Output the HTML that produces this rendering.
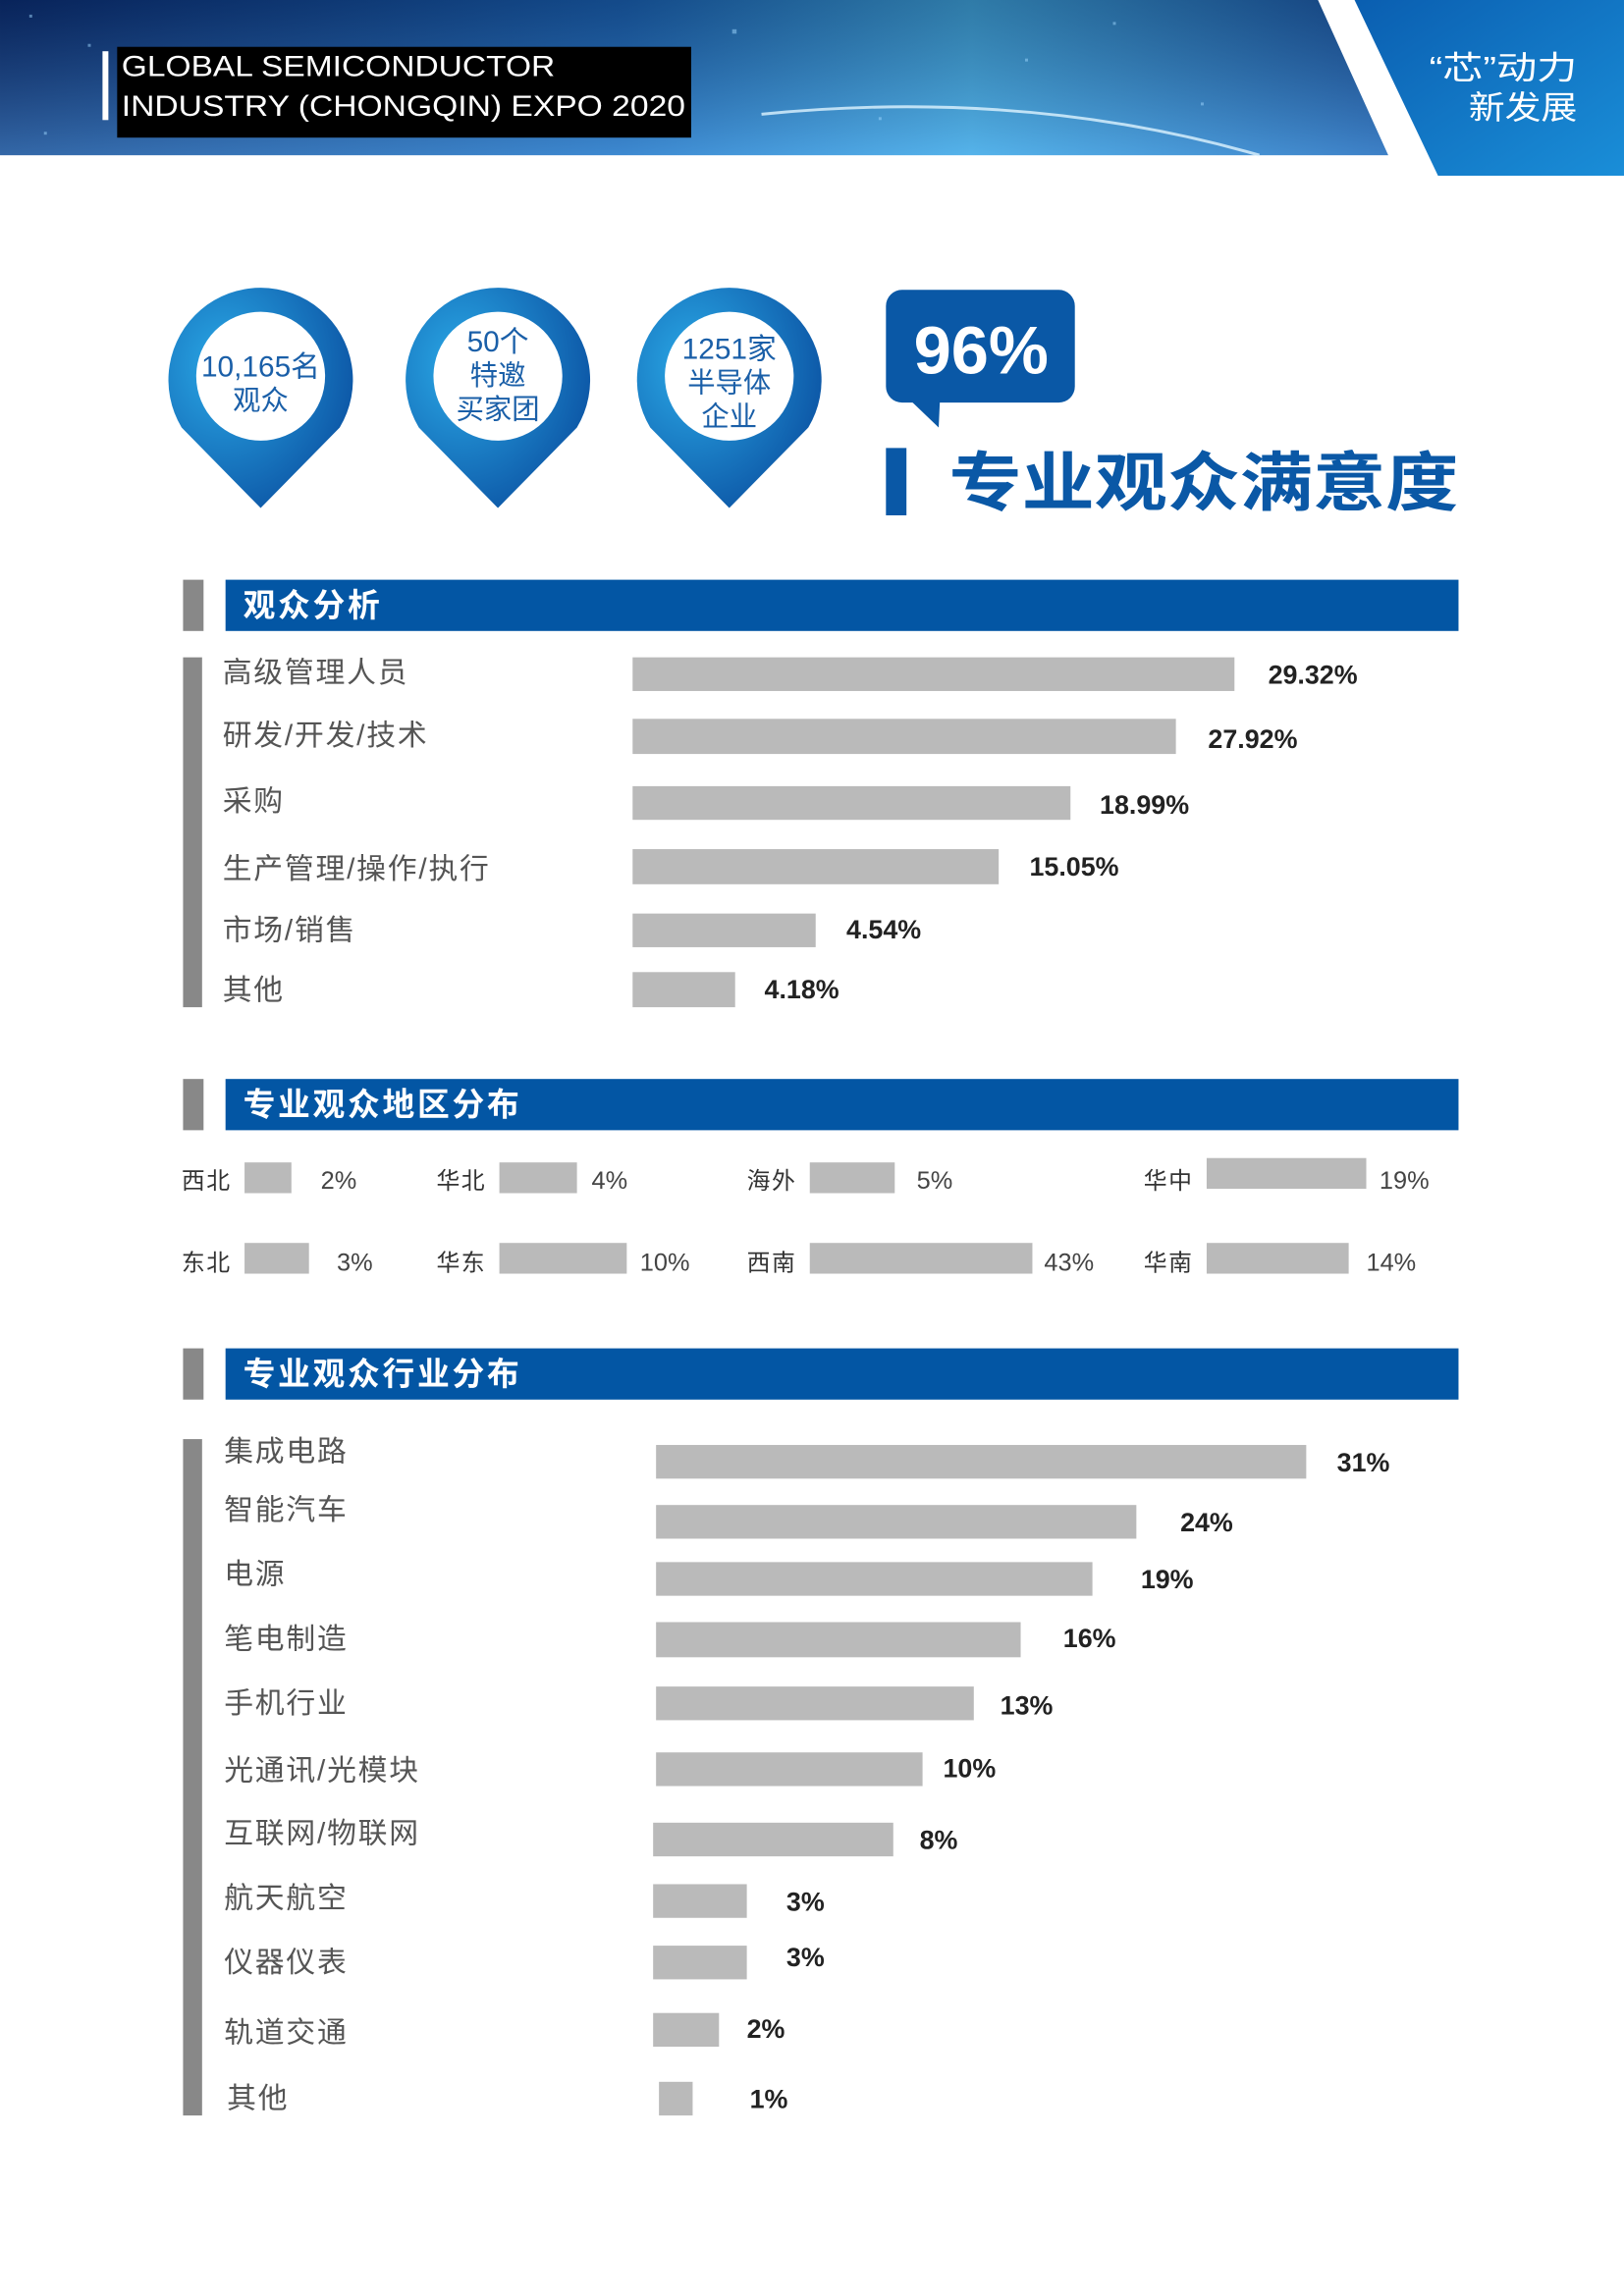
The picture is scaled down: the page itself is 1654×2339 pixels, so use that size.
<!DOCTYPE html>
<html><head><meta charset="utf-8"><style>
html,body{margin:0;padding:0;background:#fff}
svg{display:block}
text{font-family:"Liberation Sans","Noto Sans CJK SC",sans-serif}
.lab{font-size:20px;fill:#555;letter-spacing:1.2px}
.val{font-size:18px;font-weight:bold;fill:#222}
.rl{font-size:16px;fill:#333;letter-spacing:1px}
.rv{font-size:17px;fill:#444}
.hd{font-size:22px;fill:#fff;font-weight:bold;letter-spacing:1.8px}
.bar{fill:#bababa}
</style></head><body>
<svg width="1654" height="2339" viewBox="0 0 1109 1568.3" xmlns="http://www.w3.org/2000/svg">
<defs>
<linearGradient id="hg" x1="0" y1="0" x2="1" y2="0">
<stop offset="0" stop-color="#0b2f78"/><stop offset="0.45" stop-color="#1a63b8"/><stop offset="0.7" stop-color="#3fa4e0"/><stop offset="1" stop-color="#1a55a8"/></linearGradient>
<linearGradient id="hv" x1="0" y1="0" x2="0" y2="1">
<stop offset="0" stop-color="#000" stop-opacity="0.25"/><stop offset="1" stop-color="#7fd0ff" stop-opacity="0.35"/></linearGradient>
<linearGradient id="wg" x1="0" y1="0" x2="1" y2="1">
<stop offset="0" stop-color="#0a5eb0"/><stop offset="1" stop-color="#1a8ed8"/></linearGradient>
<radialGradient id="pg" cx="0.3" cy="0.35" r="0.8">
<stop offset="0" stop-color="#2aa8e6"/><stop offset="1" stop-color="#0a4fa0"/></radialGradient>
</defs>
<polygon points="0,0 900,0 948,106 0,106" fill="url(#hg)"/>
<polygon points="0,0 900,0 948,106 0,106" fill="url(#hv)"/>
<g fill="#9fd8ff" opacity="0.5">
<rect x="20" y="10" width="2" height="2"/><rect x="60" y="30" width="2" height="2"/><rect x="500" y="20" width="3" height="3"/><rect x="700" y="40" width="2" height="2"/><rect x="820" y="70" width="2" height="2"/><rect x="600" y="80" width="2" height="2"/><rect x="30" y="90" width="2" height="2"/><rect x="760" y="15" width="2" height="2"/>
</g>
<path d="M520,78 Q700,60 860,106" stroke="#dff4ff" stroke-width="2" fill="none" opacity="0.8"/>
<polygon points="925,0 1109,0 1109,120 982,120" fill="url(#wg)"/>
<rect x="80" y="32" width="392" height="62" fill="#000"/>
<rect x="70" y="35" width="4" height="47" fill="#fff"/>
<text x="83" y="52" font-size="20" fill="#fff" textLength="296" lengthAdjust="spacingAndGlyphs">GLOBAL SEMICONDUCTOR</text>
<text x="83" y="79" font-size="20" fill="#fff" textLength="385" lengthAdjust="spacingAndGlyphs">INDUSTRY (CHONGQIN) EXPO 2020</text>
<text x="976" y="54" font-size="22" fill="#fff" textLength="101" lengthAdjust="spacingAndGlyphs">“芯”动力</text>
<text x="1003" y="81" font-size="22" fill="#fff" textLength="74" lengthAdjust="spacingAndGlyphs">新发展</text>
<g>
<path d="M178,347 L124,292 A63,63 0 1 1 232,292 Z" fill="url(#pg)"/>
<circle cx="178" cy="257" r="44" fill="#fff"/>
<text x="178" y="257" font-size="20" fill="#1a5fa8" text-anchor="middle">10,165名</text>
<text x="178" y="280" font-size="19" fill="#1a5fa8" text-anchor="middle">观众</text>
<path d="M340,347 L286,292 A63,63 0 1 1 394,292 Z" fill="url(#pg)"/>
<circle cx="340" cy="257" r="44" fill="#fff"/>
<text x="340" y="240" font-size="20" fill="#1a5fa8" text-anchor="middle">50个</text>
<text x="340" y="263" font-size="19" fill="#1a5fa8" text-anchor="middle">特邀</text>
<text x="340" y="286" font-size="19" fill="#1a5fa8" text-anchor="middle">买家团</text>
<path d="M498,347 L444,292 A63,63 0 1 1 552,292 Z" fill="url(#pg)"/>
<circle cx="498" cy="257" r="44" fill="#fff"/>
<text x="498" y="245" font-size="20" fill="#1a5fa8" text-anchor="middle">1251家</text>
<text x="498" y="268" font-size="19" fill="#1a5fa8" text-anchor="middle">半导体</text>
<text x="498" y="291" font-size="19" fill="#1a5fa8" text-anchor="middle">企业</text>
</g>
<rect x="605" y="198" width="129" height="77" rx="11" fill="#0a58a6"/>
<polygon points="618,270 642,270 641,292" fill="#0a58a6"/>
<text x="670" y="255" font-size="46" font-weight="bold" fill="#fff" text-anchor="middle">96%</text>
<rect x="605" y="306" width="14" height="46" fill="#0a58a6"/>
<text x="648" y="345" font-size="44" font-weight="bold" fill="#0a58a6" textLength="348" lengthAdjust="spacingAndGlyphs">专业观众满意度</text>
<rect x="125" y="396" width="14" height="35" fill="#888"/>
<rect x="154" y="396" width="842" height="35" fill="#0356a4"/>
<text class="hd" x="166" y="421">观众分析</text>
<rect x="125" y="449" width="13" height="239" fill="#888"/>
<text class="lab" x="152" y="466">高级管理人员</text>
<rect class="bar" x="432" y="449" width="411" height="23"/><text class="val" x="866" y="467">29.32%</text>
<text class="lab" x="152" y="509">研发/开发/技术</text>
<rect class="bar" x="432" y="491" width="371" height="24"/><text class="val" x="825" y="511">27.92%</text>
<text class="lab" x="152" y="554">采购</text>
<rect class="bar" x="432" y="537" width="299" height="23"/><text class="val" x="751" y="556">18.99%</text>
<text class="lab" x="152" y="600">生产管理/操作/执行</text>
<rect class="bar" x="432" y="580" width="250" height="24"/><text class="val" x="703" y="598">15.05%</text>
<text class="lab" x="152" y="642">市场/销售</text>
<rect class="bar" x="432" y="624" width="125" height="23"/><text class="val" x="578" y="641">4.54%</text>
<text class="lab" x="152" y="683">其他</text>
<rect class="bar" x="432" y="664" width="70" height="24"/><text class="val" x="522" y="682">4.18%</text>
<rect x="125" y="737" width="14" height="35" fill="#888"/>
<rect x="154" y="737" width="842" height="35" fill="#0356a4"/>
<text class="hd" x="166" y="762">专业观众地区分布</text>
<text class="rl" x="124" y="812">西北</text><rect class="bar" x="167" y="794" width="32" height="21"/><text class="rv" x="219" y="812">2%</text>
<text class="rl" x="298" y="812">华北</text><rect class="bar" x="341" y="794" width="53" height="21"/><text class="rv" x="404" y="812">4%</text>
<text class="rl" x="510" y="812">海外</text><rect class="bar" x="553" y="794" width="58" height="21"/><text class="rv" x="626" y="812">5%</text>
<text class="rl" x="781" y="812">华中</text><rect class="bar" x="824" y="791" width="109" height="21"/><text class="rv" x="942" y="812">19%</text>
<text class="rl" x="124" y="868">东北</text><rect class="bar" x="167" y="849" width="44" height="21"/><text class="rv" x="230" y="868">3%</text>
<text class="rl" x="298" y="868">华东</text><rect class="bar" x="341" y="849" width="87" height="21"/><text class="rv" x="437" y="868">10%</text>
<text class="rl" x="510" y="868">西南</text><rect class="bar" x="553" y="849" width="152" height="21"/><text class="rv" x="713" y="868">43%</text>
<text class="rl" x="781" y="868">华南</text><rect class="bar" x="824" y="849" width="97" height="21"/><text class="rv" x="933" y="868">14%</text>
<rect x="125" y="921" width="14" height="35" fill="#888"/>
<rect x="154" y="921" width="842" height="35" fill="#0356a4"/>
<text class="hd" x="166" y="946">专业观众行业分布</text>
<rect x="125" y="983" width="13" height="462" fill="#888"/>
<text class="lab" x="153" y="998">集成电路</text><rect class="bar" x="448" y="987" width="444" height="23"/><text class="val" x="913" y="1005">31%</text>
<text class="lab" x="153" y="1038">智能汽车</text><rect class="bar" x="448" y="1028" width="328" height="23"/><text class="val" x="806" y="1046">24%</text>
<text class="lab" x="153" y="1082">电源</text><rect class="bar" x="448" y="1067" width="298" height="23"/><text class="val" x="779" y="1085">19%</text>
<text class="lab" x="153" y="1126">笔电制造</text><rect class="bar" x="448" y="1108" width="249" height="24"/><text class="val" x="726" y="1125">16%</text>
<text class="lab" x="153" y="1170">手机行业</text><rect class="bar" x="448" y="1152" width="217" height="23"/><text class="val" x="683" y="1171">13%</text>
<text class="lab" x="153" y="1216">光通讯/光模块</text><rect class="bar" x="448" y="1197" width="182" height="23"/><text class="val" x="644" y="1214">10%</text>
<text class="lab" x="153" y="1259">互联网/物联网</text><rect class="bar" x="446" y="1245" width="164" height="23"/><text class="val" x="628" y="1263">8%</text>
<text class="lab" x="153" y="1303">航天航空</text><rect class="bar" x="446" y="1287" width="64" height="23"/><text class="val" x="537" y="1305">3%</text>
<text class="lab" x="153" y="1347">仪器仪表</text><rect class="bar" x="446" y="1329" width="64" height="23"/><text class="val" x="537" y="1343">3%</text>
<text class="lab" x="153" y="1395">轨道交通</text><rect class="bar" x="446" y="1375" width="45" height="23"/><text class="val" x="510" y="1392">2%</text>
<text class="lab" x="155" y="1440">其他</text><rect class="bar" x="450" y="1422" width="23" height="23"/><text class="val" x="512" y="1440">1%</text>
</svg>
</body></html>
